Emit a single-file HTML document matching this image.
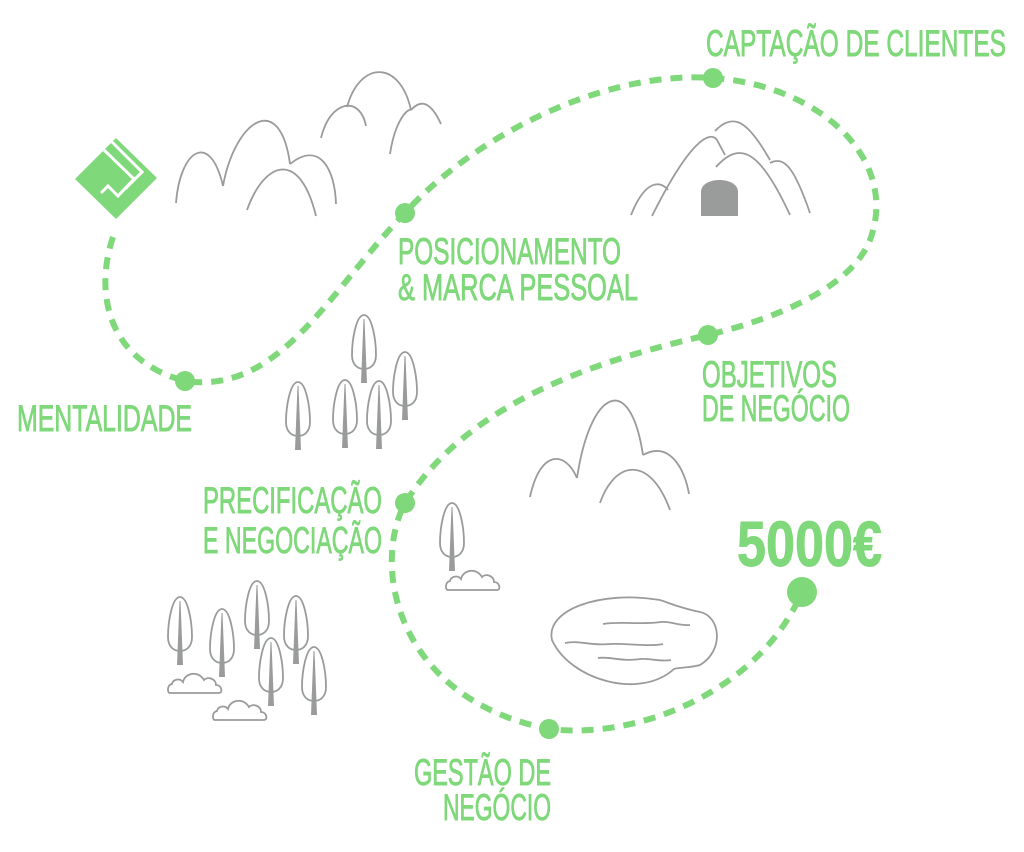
<!DOCTYPE html>
<html><head><meta charset="utf-8"><style>
html,body{margin:0;padding:0;background:#fff;}
svg{display:block}
text{font-family:"Liberation Sans Narrow","Liberation Sans",sans-serif;fill:#7fd87a;stroke:#7fd87a;stroke-width:0.9;}
</style></head><body>
<svg width="1024" height="852" viewBox="0 0 1024 852" xmlns="http://www.w3.org/2000/svg">
<defs>
<g id="tree">
<path d="M0,0 C-8,0 -12,25 -12,40 C-12,50 -6,54 0,54 C6,54 12,50 12,40 C12,25 8,0 0,0 Z" fill="none" stroke="#999c9b" stroke-width="1.8"/>
<path d="M-0.5,4 L0.5,4 L3,68 L-3,68 Z" fill="#999c9b"/>
</g>
<g id="cloud">
<path d="M-30,0 C-33,0 -33,-8 -28,-9 C-27,-14 -20,-15 -17,-11 C-15,-20 -2,-23 4,-13 C8,-17 16,-14 16,-8 C22,-8 23,0 19,0 Z" fill="none" stroke="#999c9b" stroke-width="1.8"/>
</g>
</defs>

<g fill="none" stroke="#7fd87a" stroke-width="6" stroke-dasharray="12,9">
<path d="M113,237 C95,290 105,360 185,381 C280,395 330,290 405,213 C470,140 600,70 713,78 C820,85 900,160 870,240 C850,290 770,320 708,335 C600,360 470,400 405,503 C370,570 400,700 549,729 C640,740 760,690 802,592"/>
</g>
<g fill="#7fd87a">
<circle cx="713" cy="78" r="10"/>
<circle cx="405" cy="213" r="10"/>
<circle cx="185" cy="381" r="10"/>
<circle cx="708" cy="335" r="10"/>
<circle cx="405" cy="503" r="10"/>
<circle cx="549" cy="729" r="10"/>
<circle cx="802" cy="592" r="15"/>
</g>

<polygon points="75,179 116,138 157,178 116,219" fill="#7fd87a"/>
<g fill="none" stroke="#fff" stroke-width="3">
<polyline points="112,142 142,172 125,189"/>
<polyline points="104,150 134,179 118,196 108,186 101,193"/>
</g>

<g fill="none" stroke="#999c9b" stroke-width="1.8">
<path d="M176,203 C180,150 210,130 223,186"/>
<path d="M223,186 C235,120 280,90 290,164"/>
<path d="M290,164 C320,140 335,170 336,204"/>
<path d="M247,210 C265,160 300,150 316,216"/>
<path d="M321,138 C330,100 360,95 366,126"/>
<path d="M347,107 C360,60 400,60 411,110"/>
<path d="M411,110 C420,100 430,100 441,124"/>
<path d="M390,154 C395,120 408,108 411,110"/>
<path d="M631,215 C645,180 660,180 668,190"/>
<path d="M652,216 C690,140 710,130 717,140 L725,155"/>
<path d="M715,131 C735,110 750,125 770,160"/>
<path d="M716,167 C740,140 760,150 790,215"/>
<path d="M770,163 C785,155 795,170 810,213"/>
<path d="M530,497 C540,450 565,450 577,478"/>
<path d="M577,478 C590,390 630,370 643,455"/>
<path d="M643,455 C670,440 685,470 689,494"/>
<path d="M600,503 C615,460 650,455 670,510"/>
<path d="M552,640 C545,610 600,590 660,600 C672,604 680,608 700,612 C720,616 725,650 700,665 C690,668 680,667 674,669 C640,700 570,680 552,640 Z"/>
<path d="M565,643 C580,640 590,646 610,644 C625,643 650,647 663,644"/>
<path d="M603,624 C620,621 640,625 661,622 C670,621 680,626 690,625"/>
<path d="M598,658 C610,656 620,662 640,659 C650,658 660,662 671,660"/>
</g>
<path d="M701,216 L701,192 C701,176 738,176 738,192 L738,216 Z" fill="#999c9b"/>

<use href="#tree" x="364" y="315"/>
<use href="#tree" x="405" y="352"/>
<use href="#tree" x="298" y="382"/>
<use href="#tree" x="345" y="380"/>
<use href="#tree" x="379" y="381"/>
<use href="#tree" x="452" y="503"/>
<use href="#tree" x="180" y="597"/>
<use href="#tree" x="222" y="609"/>
<use href="#tree" x="257" y="581"/>
<use href="#tree" x="296" y="596"/>
<use href="#tree" x="271" y="638"/>
<use href="#tree" x="314" y="647"/>
<use href="#cloud" x="478" y="590"/>
<use href="#cloud" x="200" y="693"/>
<use href="#cloud" x="245" y="720"/>

<g font-size="37">
<text x="706" y="56" textLength="300" lengthAdjust="spacingAndGlyphs">CAPTAÇÃO DE CLIENTES</text>
<text x="398" y="264" textLength="223" lengthAdjust="spacingAndGlyphs">POSICIONAMENTO</text>
<text x="398" y="300" textLength="240" lengthAdjust="spacingAndGlyphs">&amp; MARCA PESSOAL</text>
<text x="17" y="431" textLength="175" lengthAdjust="spacingAndGlyphs">MENTALIDADE</text>
<text x="702" y="387" textLength="135" lengthAdjust="spacingAndGlyphs">OBJETIVOS</text>
<text x="702" y="421" textLength="148" lengthAdjust="spacingAndGlyphs">DE NEGÓCIO</text>
<text x="203" y="513" textLength="179" lengthAdjust="spacingAndGlyphs">PRECIFICAÇÃO</text>
<text x="203" y="553" textLength="179" lengthAdjust="spacingAndGlyphs">E NEGOCIAÇÃO</text>
<text x="414" y="785" textLength="137" lengthAdjust="spacingAndGlyphs">GESTÃO DE</text>
<text x="443" y="820" textLength="108" lengthAdjust="spacingAndGlyphs">NEGÓCIO</text>
</g>
<text x="737" y="566" font-size="64" font-weight="bold" textLength="145" lengthAdjust="spacingAndGlyphs">5000€</text>
</svg>
</body></html>
